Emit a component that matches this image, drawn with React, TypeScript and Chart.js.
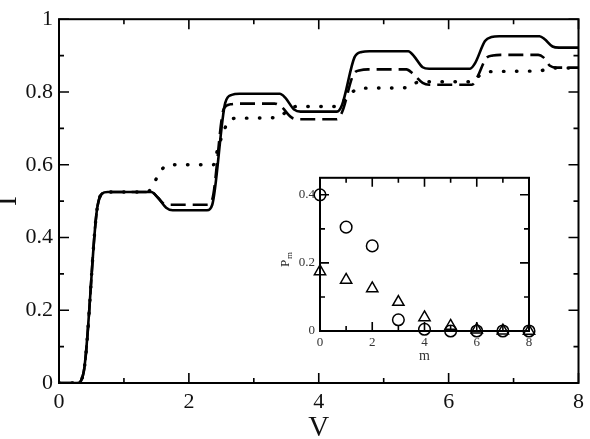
import React, { useEffect, useRef } from 'react';
import { Chart, registerables } from 'chart.js';

Chart.register(...registerables);

// ---- Main chart data (V vs I) ----
const solidV = [0, 0.28, 0.38, 0.58, 0.66, 0.75, 1.42, 1.52, 1.65, 1.75, 2.28, 2.36, 2.56, 2.66, 2.78, 3.40, 3.48, 3.62, 3.72, 4.28, 4.36, 4.55, 4.66, 4.78, 5.38, 5.46, 5.60, 5.70, 6.33, 6.41, 6.56, 6.66, 6.78, 7.40, 7.48, 7.60, 7.70, 8.0];
const solidI = [0, 0, 0.03, 0.47, 0.52, 0.525, 0.525, 0.51, 0.482, 0.475, 0.475, 0.49, 0.77, 0.792, 0.795, 0.795, 0.785, 0.752, 0.746, 0.746, 0.765, 0.895, 0.91, 0.912, 0.912, 0.9, 0.868, 0.864, 0.864, 0.88, 0.94, 0.951, 0.953, 0.953, 0.945, 0.925, 0.922, 0.922];

const dashedV = [0, 0.28, 0.38, 0.58, 0.66, 0.75, 1.42, 1.52, 1.62, 1.72, 2.28, 2.36, 2.54, 2.64, 2.76, 3.32, 3.42, 3.58, 3.68, 4.28, 4.36, 4.54, 4.64, 4.76, 5.35, 5.45, 5.60, 5.70, 6.36, 6.44, 6.58, 6.68, 6.80, 7.38, 7.46, 7.56, 7.66, 8.0];
const dashedI = [0, 0, 0.03, 0.47, 0.52, 0.525, 0.525, 0.51, 0.492, 0.49, 0.49, 0.505, 0.755, 0.766, 0.768, 0.768, 0.76, 0.73, 0.725, 0.725, 0.745, 0.85, 0.86, 0.862, 0.862, 0.85, 0.825, 0.82, 0.82, 0.84, 0.893, 0.9, 0.902, 0.902, 0.895, 0.872, 0.867, 0.867];

const dottedV = [0, 0.28, 0.38, 0.58, 0.66, 0.75, 1.36, 1.45, 1.53, 1.62, 1.72, 2.38, 2.44, 2.58, 2.66, 2.78, 3.38, 3.46, 3.56, 3.66, 4.30, 4.38, 4.52, 4.62, 5.38, 5.48, 5.58, 6.38, 6.44, 6.56, 6.66, 7.40, 7.50, 7.60, 8.0];
const dottedI = [0, 0, 0.03, 0.47, 0.52, 0.525, 0.525, 0.545, 0.572, 0.594, 0.6, 0.6, 0.64, 0.71, 0.726, 0.728, 0.73, 0.74, 0.756, 0.76, 0.76, 0.775, 0.80, 0.81, 0.812, 0.824, 0.828, 0.828, 0.84, 0.853, 0.856, 0.858, 0.862, 0.866, 0.866];

const mainXTicks = [0, 2, 4, 6, 8];
const mainYTicks = [0, 0.2, 0.4, 0.6, 0.8, 1];

// ---- Inset data (P_m vs m) ----
const insetM = [0, 1, 2, 3, 4, 5, 6, 7, 8];
const circleP = [0.40, 0.305, 0.25, 0.033, 0.005, 0, 0, 0, 0];
const triangleP = [0.175, 0.15, 0.125, 0.085, 0.04, 0.015, 0.004, 0.001, 0];
const insetXTicks = [0, 2, 4, 6, 8];
const insetYTicks = [0, 0.2, 0.4];

const SERIF = '"Liberation Serif", "Times New Roman", serif';

const pts = (xs: number[], ys: number[]) => xs.map((x, i) => ({ x, y: ys[i] }));
const near = (v: number, arr: number[]) => arr.some((a) => Math.abs(a - v) < 1e-6);
const isStep = (v: number, step: number) => Math.abs(v / step - Math.round(v / step)) < 1e-6;

const makeFrame = (
  major: number,
  minor: number,
  lw: number,
  xMajor: number[],
  yMajor: number[],
  yStep: number,
  extra?: (chart: any) => void
) => ({
  id: 'frame',
  afterDatasetsDraw(chart: any) {
    const { ctx, chartArea: a, scales } = chart;
    ctx.save();
    ctx.strokeStyle = '#000';
    ctx.lineWidth = lw;
    ctx.strokeRect(a.left, a.top, a.right - a.left, a.bottom - a.top);
    ctx.lineWidth = Math.max(1, lw * 0.8);
    ctx.beginPath();
    for (const t of scales.x.ticks) {
      const px = scales.x.getPixelForValue(t.value);
      const L = near(t.value, xMajor) ? major : minor;
      ctx.moveTo(px, a.bottom);
      ctx.lineTo(px, a.bottom - L);
      ctx.moveTo(px, a.top);
      ctx.lineTo(px, a.top + L);
    }
    for (const t of scales.y.ticks) {
      if (!isStep(t.value, yStep)) continue;
      const py = scales.y.getPixelForValue(t.value);
      const L = near(t.value, yMajor) ? major : minor;
      ctx.moveTo(a.left, py);
      ctx.lineTo(a.left + L, py);
      ctx.moveTo(a.right, py);
      ctx.lineTo(a.right - L, py);
    }
    ctx.stroke();
    ctx.restore();
    if (extra) extra(chart);
  },
});

export default function App() {
  const mainRef = useRef<HTMLCanvasElement | null>(null);
  const insetRef = useRef<HTMLCanvasElement | null>(null);

  useEffect(() => {
    const main = new Chart(mainRef.current as HTMLCanvasElement, {
      type: 'line',
      data: {
        datasets: [
          {
            data: pts(dottedV, dottedI),
            borderColor: '#000',
            borderWidth: 3.4,
            borderDash: [0.5, 12.5],
            borderCapStyle: 'round',
            pointRadius: 0,
            cubicInterpolationMode: 'monotone',
            fill: false,
          },
          {
            data: pts(dashedV, dashedI),
            borderColor: '#000',
            borderWidth: 2.6,
            borderDash: [15, 7],
            pointRadius: 0,
            cubicInterpolationMode: 'monotone',
            fill: false,
          },
          {
            data: pts(solidV, solidI),
            borderColor: '#000',
            borderWidth: 2.6,
            pointRadius: 0,
            cubicInterpolationMode: 'monotone',
            fill: false,
          },
        ],
      } as any,
      options: {
        animation: false,
        responsive: false,
        layout: { padding: { top: 17, right: 8, left: 0, bottom: 0 } },
        plugins: { legend: { display: false }, tooltip: { enabled: false } },
        scales: {
          x: {
            type: 'linear',
            min: 0,
            max: 8,
            grid: { display: false, drawTicks: false },
            border: { display: false },
            ticks: {
              stepSize: 1,
              autoSkip: false,
              maxRotation: 0,
              padding: 6,
              color: '#111',
              font: { family: SERIF, size: 22 },
              callback: (v: any) => (near(Number(v), mainXTicks) ? String(v) : ''),
            },
            title: {
              display: true,
              text: 'V',
              color: '#111',
              font: { family: SERIF, size: 29, lineHeight: 1 },
              padding: { top: 0, bottom: -4 },
            },
            afterFit: (s: any) => {
              s.height = 56;
            },
          },
          y: {
            type: 'linear',
            min: 0,
            max: 1,
            grid: { display: false, drawTicks: false },
            border: { display: false },
            ticks: {
              stepSize: 0.1,
              autoSkip: false,
              padding: 6,
              color: '#111',
              font: { family: SERIF, size: 22 },
              callback: (v: any) => {
                const n = Math.round(Number(v) * 10) / 10;
                return near(n, mainYTicks) ? String(n) : '';
              },
            },
            title: {
              display: true,
              text: 'I',
              color: '#111',
              font: { family: SERIF, size: 29, lineHeight: 1 },
              padding: { top: -6, bottom: 0 },
            },
            afterFit: (s: any) => {
              s.width = 59;
            },
          },
        },
      } as any,
      plugins: [makeFrame(10, 5, 2, mainXTicks, mainYTicks, 0.1)],
    });

    const drawPm = (chart: any) => {
      const { ctx } = chart;
      ctx.save();
      ctx.fillStyle = '#222';
      ctx.translate(15, 95);
      ctx.rotate(-Math.PI / 2);
      ctx.textAlign = 'left';
      ctx.textBaseline = 'alphabetic';
      ctx.font = `13px ${SERIF}`;
      ctx.fillText('P', -7, 4);
      ctx.font = `9px ${SERIF}`;
      ctx.fillText('m', 1, 7);
      ctx.restore();
    };

    const inset = new Chart(insetRef.current as HTMLCanvasElement, {
      type: 'scatter',
      data: {
        datasets: [
          {
            data: pts(insetM, circleP),
            pointStyle: 'circle',
            pointRadius: 5.8,
            borderColor: '#000',
            backgroundColor: 'rgba(0,0,0,0)',
            pointBorderWidth: 1.5,
            showLine: false,
            clip: false,
          },
          {
            data: pts(insetM, triangleP),
            pointStyle: 'triangle',
            pointRadius: 6.5,
            borderColor: '#000',
            backgroundColor: 'rgba(0,0,0,0)',
            pointBorderWidth: 1.5,
            showLine: false,
            clip: false,
          },
        ],
      } as any,
      options: {
        animation: false,
        responsive: false,
        layout: { padding: { top: 9, right: 11, left: 0, bottom: 0 } },
        plugins: { legend: { display: false }, tooltip: { enabled: false } },
        scales: {
          x: {
            type: 'linear',
            min: 0,
            max: 8,
            grid: { display: false, drawTicks: false },
            border: { display: false },
            ticks: {
              stepSize: 1,
              autoSkip: false,
              maxRotation: 0,
              padding: 4,
              color: '#333',
              font: { family: SERIF, size: 13 },
              callback: (v: any) => (near(Number(v), insetXTicks) ? String(v) : ''),
            },
            title: {
              display: true,
              text: 'm',
              color: '#333',
              font: { family: SERIF, size: 14, lineHeight: 1 },
              padding: { top: 0, bottom: 2 },
            },
            afterFit: (s: any) => {
              s.height = 34;
            },
          },
          y: {
            type: 'linear',
            min: 0,
            max: 0.45,
            grid: { display: false, drawTicks: false },
            border: { display: false },
            ticks: {
              stepSize: 0.1,
              autoSkip: false,
              padding: 5,
              color: '#333',
              font: { family: SERIF, size: 13 },
              callback: (v: any) => {
                const n = Math.round(Number(v) * 100) / 100;
                return near(n, insetYTicks) ? String(n) : '';
              },
            },
            afterFit: (s: any) => {
              s.width = 50;
            },
          },
        },
      } as any,
      plugins: [makeFrame(9, 5, 2, insetXTicks, insetYTicks, 0.1, drawPm)],
    });

    return () => {
      main.destroy();
      inset.destroy();
    };
  }, []);

  return (
    <div style={{ position: 'fixed', left: 0, top: 0, width: 590, height: 439, background: '#fff' }}>
      <canvas ref={mainRef} width={590} height={439} style={{ position: 'absolute', left: 0, top: 0 }} />
      <canvas ref={insetRef} width={270} height={200} style={{ position: 'absolute', left: 270, top: 165 }} />
    </div>
  );
}
